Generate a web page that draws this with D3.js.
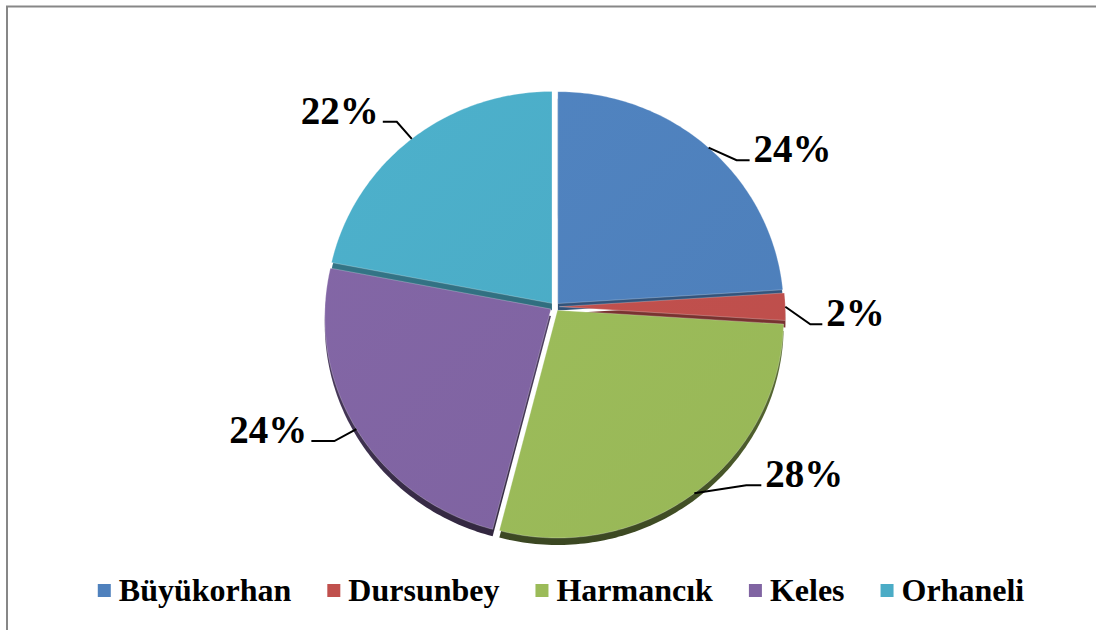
<!DOCTYPE html>
<html>
<head>
<meta charset="utf-8">
<script src="https://cdn.jsdelivr.net/npm/d3@7"></script>
<style>
  html, body { margin: 0; padding: 0; background: #fff; }
  svg { display: block; }
</style>
</head>
<body>
<svg id="chart" width="1096" height="630"></svg>
<script>
// District shares
const categories = ["Büyükorhan", "Dursunbey", "Harmancık", "Keles", "Orhaneli"];
const shares = [24, 2, 28, 24, 22];
const palette = ["#4f81bd", "#c0504d", "#9bbb59", "#8064a2", "#4bacc6"];

// Leader line layout: elbow offset from the rim anchor, then a horizontal stub
const leaderNudge = [
  { dx: 28, dy: 12.5, stub: 13 },
  { dx: 25, dy: 17.6, stub: 12 },
  { dx: 52, dy: -8, stub: 15 },
  { dx: -22, dy: 12, stub: -23 },
  { dx: -15, dy: -17, stub: -14 }
];

// Tilted disc geometry (slight perspective: far half a little smaller)
const CX = 554.8, CY = 306.7, RX = 226, RY = 219.5, PERSP = 0.035;
const EXPLODE = 0.02, DEPTH = 7;
const FONT = "'Liberation Serif', 'Times New Roman', serif";

const svg = d3.select("#chart");
const total = d3.sum(shares);
const pct = d3.format(".0%");

// Chart frame
svg.append("rect")
  .attr("x", 7).attr("y", 6.5)
  .attr("width", 1200).attr("height", 700)
  .attr("fill", "none")
  .attr("stroke", "#878787")
  .attr("stroke-width", 2);

function project(u, v) {
  const w = 1 / (1 - PERSP * v);
  return [CX + RX * u * w, CY + RY * v * w];
}

const pie = d3.pie().sort(null).value(d => d);
const arcs = pie(shares).map((a, i) => {
  const mid = (a.startAngle + a.endAngle) / 2;
  const ex = EXPLODE * Math.sin(mid), ey = -EXPLODE * Math.cos(mid);
  const pts = [project(ex, ey)];
  const steps = Math.max(4, Math.ceil((a.endAngle - a.startAngle) / (Math.PI / 180)));
  for (let s = 0; s <= steps; s++) {
    const t = a.startAngle + (a.endAngle - a.startAngle) * s / steps;
    pts.push(project(Math.sin(t) + ex, -Math.cos(t) + ey));
  }
  const anchor = project(Math.sin(mid) + ex, -Math.cos(mid) + ey);
  return { ...a, i, mid, pts, anchor };
});

const line = d3.line();
const defs = svg.append("defs");

// Side walls: darker toward the front edge
palette.forEach((c, i) => {
  const g = defs.append("linearGradient")
    .attr("id", "side" + i)
    .attr("gradientUnits", "userSpaceOnUse")
    .attr("x1", 0).attr("x2", 0)
    .attr("y1", CY - 40).attr("y2", CY + RY + 10);
  g.append("stop").attr("offset", 0).attr("stop-color", d3.color(c).darker(1.1));
  g.append("stop").attr("offset", 1).attr("stop-color", d3.color(c).darker(2.7));
});

// Top faces: soft sheen
palette.forEach((c, i) => {
  const g = defs.append("linearGradient")
    .attr("id", "top" + i)
    .attr("gradientUnits", "userSpaceOnUse")
    .attr("x1", CX - RX).attr("y1", CY - RY)
    .attr("x2", CX + RX).attr("y2", CY + RY);
  g.append("stop").attr("offset", 0).attr("stop-color", d3.color(c).brighter(0.08));
  g.append("stop").attr("offset", 1).attr("stop-color", d3.color(c).darker(0.06));
});

const pieG = svg.append("g");

pieG.selectAll("path.side")
  .data(arcs)
  .join("path")
  .attr("class", "side")
  .attr("transform", `translate(0,${DEPTH})`)
  .attr("d", d => line(d.pts) + "Z")
  .attr("fill", d => `url(#side${d.i})`);

pieG.selectAll("path.top")
  .data(arcs)
  .join("path")
  .attr("class", "top")
  .attr("d", d => line(d.pts) + "Z")
  .attr("fill", d => `url(#top${d.i})`)
  .attr("stroke", "rgba(255,255,255,0.25)")
  .attr("stroke-width", 1);

// Leader lines and percentage labels
const labelG = svg.append("g");
arcs.forEach(d => {
  const n = leaderNudge[d.i];
  const [ax, ay] = d.anchor;
  const ex = ax + n.dx, ey = ay + n.dy;
  const sx = ex + n.stub;
  labelG.append("path")
    .attr("d", line([[ax, ay], [ex, ey], [sx, ey]]))
    .attr("fill", "none")
    .attr("stroke", "#000")
    .attr("stroke-width", 2);
  const right = n.stub > 0;
  labelG.append("text")
    .attr("x", sx + (right ? 4 : -4))
    .attr("y", ey + 2)
    .attr("text-anchor", right ? "start" : "end")
    .attr("font-family", FONT)
    .attr("font-weight", "bold")
    .attr("font-size", 39)
    .attr("fill", "#000")
    .text(pct(d.data / total));
});

// Legend
const legend = svg.append("g");
const items = legend.selectAll("g")
  .data(categories)
  .join("g");
items.append("rect")
  .attr("width", 13).attr("height", 13)
  .attr("y", 584)
  .attr("fill", (d, i) => palette[i]);
items.append("text")
  .attr("x", 21)
  .attr("y", 601)
  .attr("font-family", FONT)
  .attr("font-weight", "bold")
  .attr("font-size", 32)
  .attr("fill", "#000")
  .text(d => d);

let x = 0;
const offsets = [];
items.each(function () {
  const w = 21 + this.querySelector("text").getComputedTextLength();
  offsets.push(x);
  x += w + 36;
});
const totalW = x - 36;
const startX = 561 - totalW / 2;
items.attr("transform", (d, i) => `translate(${startX + offsets[i]},0)`);
</script>
</body>
</html>
